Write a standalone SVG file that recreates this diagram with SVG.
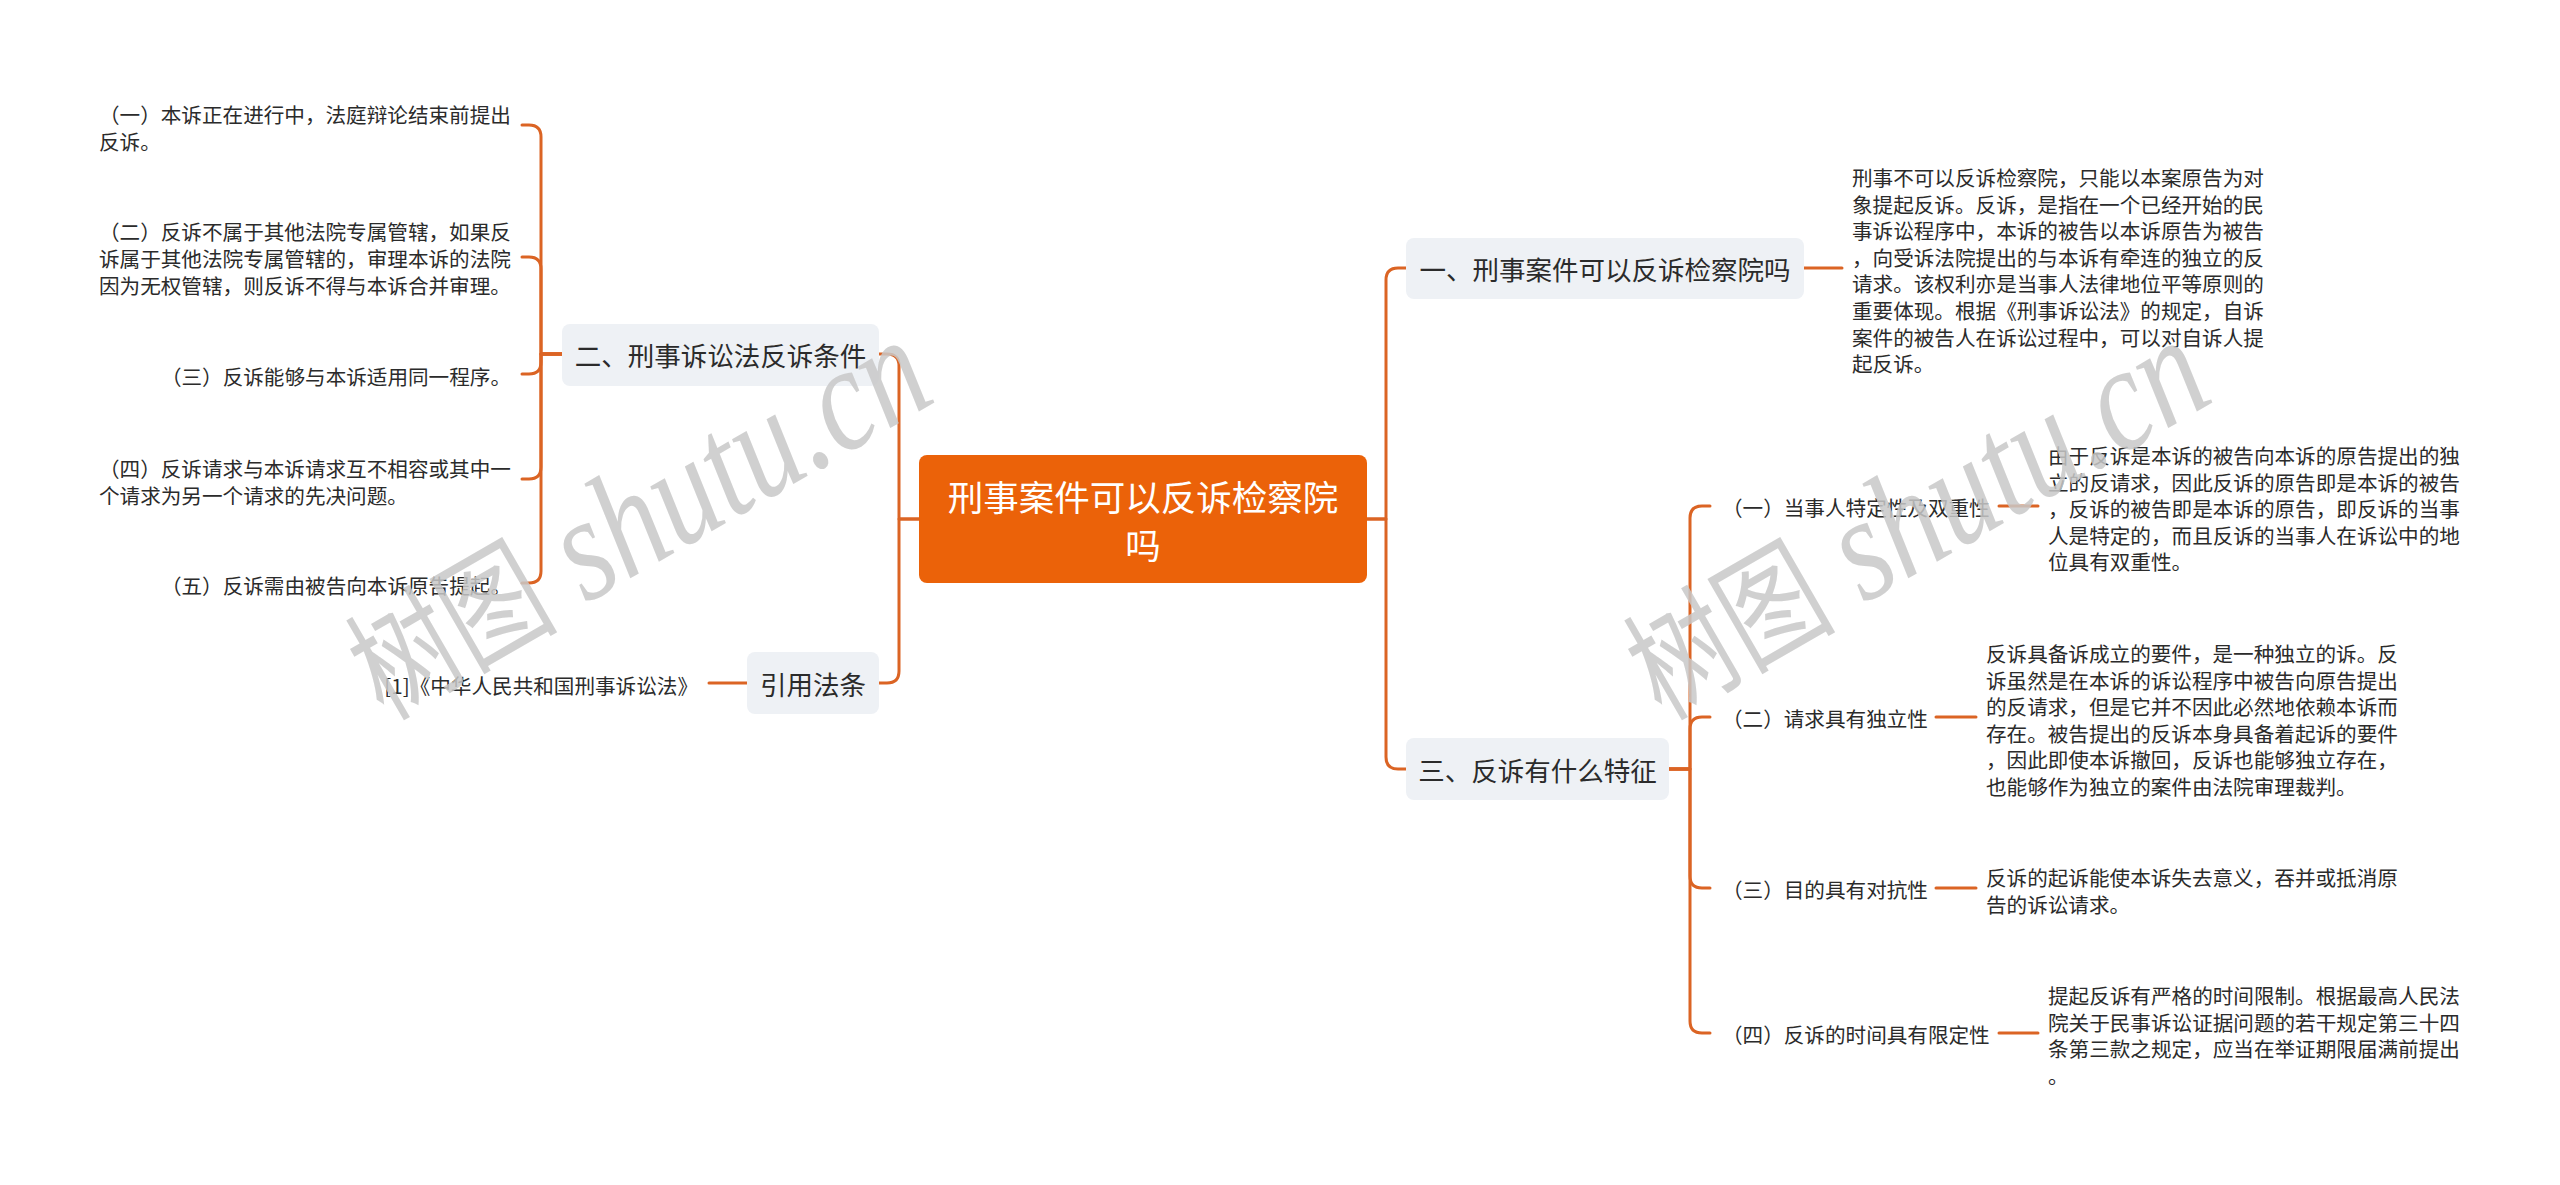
<svg xmlns="http://www.w3.org/2000/svg" width="2560" height="1185" viewBox="0 0 2560 1185">
<style>
.bg{fill:#ffffff}
.root rect{fill:#EB6209}
.root text{fill:#ffffff;font-family:"Noto Sans CJK SC","Noto Sans",sans-serif;font-size:35.5px;text-anchor:middle;dominant-baseline:central}
.branch rect{fill:#EEF1F5}
.branch text{fill:#2b2b2b;font-family:"Noto Sans CJK SC","Noto Sans",sans-serif;font-size:26.5px;text-anchor:middle;dominant-baseline:central}
.leaf text{fill:#2b2b2b;font-family:"Noto Sans CJK SC","Noto Sans",sans-serif;font-size:20.6px;dominant-baseline:central}
.end{text-anchor:end}
#connectors path{fill:none;stroke:#DB6424;stroke-width:3;stroke-linecap:round;stroke-linejoin:round}
.wm{fill:#c8c8c8;fill-opacity:0.85;text-anchor:middle}
.wmc{font-family:"Noto Sans CJK SC",sans-serif;font-size:112px}
.wml{font-family:"Liberation Serif",serif;font-style:italic;font-size:135px}
</style>
<rect class="bg" x="0" y="0" width="2560" height="1185"/>

<g id="connectors">
<path d="M919,519 H899 V366 Q899,354 887,354 H879"/>
<path d="M919,519 H899 V671 Q899,683 887,683 H879"/>
<path d="M1367,519 H1386 V280 Q1386,268 1398,268 H1406"/>
<path d="M1367,519 H1386 V757 Q1386,769 1398,769 H1406"/>
<path d="M562,354 H541 V137 Q541,125 529,125 H522"/>
<path d="M562,354 H541 V269 Q541,257 529,257 H522"/>
<path d="M562,354 H541 V362 Q541,374 529,374 H522"/>
<path d="M562,354 H541 V467 Q541,479 529,479 H522"/>
<path d="M562,354 H541 V571 Q541,583 529,583 H522"/>
<path d="M747,683 H709"/>
<path d="M1669,769 H1690 V518 Q1690,506 1702,506 H1710"/>
<path d="M1669,769 H1690 V729 Q1690,717 1702,717 H1710"/>
<path d="M1669,769 H1690 V876 Q1690,888 1702,888 H1710"/>
<path d="M1669,769 H1690 V1021 Q1690,1033 1702,1033 H1710"/>
<path d="M1804,268 H1842"/>
<path d="M1999,506 H2038"/>
<path d="M1936,717 H1976"/>
<path d="M1936,888 H1976"/>
<path d="M1999,1033 H2038"/>
</g>

<g id="root" class="root">
<rect x="919" y="455" width="448" height="128" rx="8"/>
<text x="1143" y="495">刑事案件可以反诉检察院</text>
<text x="1143" y="543">吗</text>
</g>

<g id="n2" class="branch">
<rect x="562" y="324" width="317" height="62" rx="8"/>
<text x="720.5" y="354">二、刑事诉讼法反诉条件</text>
</g>
<g id="n-cite" class="branch">
<rect x="747" y="652" width="132" height="62" rx="8"/>
<text x="813" y="683">引用法条</text>
</g>
<g id="n1" class="branch">
<rect x="1406" y="238" width="398" height="61" rx="8"/>
<text x="1605" y="268">一、刑事案件可以反诉检察院吗</text>
</g>
<g id="n3" class="branch">
<rect x="1406" y="738" width="263" height="62" rx="8"/>
<text x="1537.5" y="769">三、反诉有什么特征</text>
</g>

<g id="leaf2-1" class="leaf">
<text x="99" y="114">（一）本诉正在进行中，法庭辩论结束前提出</text>
<text x="99" y="141">反诉。</text>
</g>
<g id="leaf2-2" class="leaf">
<text x="99" y="231">（二）反诉不属于其他法院专属管辖，如果反</text>
<text x="99" y="258">诉属于其他法院专属管辖的，审理本诉的法院</text>
<text x="99" y="285">因为无权管辖，则反诉不得与本诉合并审理。</text>
</g>
<g id="leaf2-3" class="leaf">
<text class="end" x="511" y="376">（三）反诉能够与本诉适用同一程序。</text>
</g>
<g id="leaf2-4" class="leaf">
<text x="99" y="468">（四）反诉请求与本诉请求互不相容或其中一</text>
<text x="99" y="495">个请求为另一个请求的先决问题。</text>
</g>
<g id="leaf2-5" class="leaf">
<text class="end" x="511" y="585">（五）反诉需由被告向本诉原告提起。</text>
</g>
<g id="leaf-cite" class="leaf">
<text class="end" x="698" y="685">[1]《中华人民共和国刑事诉讼法》</text>
</g>

<g id="desc1" class="leaf">
<text x="1852" y="177">刑事不可以反诉检察院，只能以本案原告为对</text>
<text x="1852" y="203.6">象提起反诉。反诉，是指在一个已经开始的民</text>
<text x="1852" y="230.2">事诉讼程序中，本诉的被告以本诉原告为被告</text>
<text x="1852" y="256.8">，向受诉法院提出的与本诉有牵连的独立的反</text>
<text x="1852" y="283.4">请求。该权利亦是当事人法律地位平等原则的</text>
<text x="1852" y="310">重要体现。根据《刑事诉讼法》的规定，自诉</text>
<text x="1852" y="336.6">案件的被告人在诉讼过程中，可以对自诉人提</text>
<text x="1852" y="363.2">起反诉。</text>
</g>

<g id="n3-1" class="leaf">
<text x="1722" y="507">（一）当事人特定性及双重性</text>
</g>
<g id="n3-1d" class="leaf">
<text x="2048" y="455">由于反诉是本诉的被告向本诉的原告提出的独</text>
<text x="2048" y="481.6">立的反请求，因此反诉的原告即是本诉的被告</text>
<text x="2048" y="508.2">，反诉的被告即是本诉的原告，即反诉的当事</text>
<text x="2048" y="534.8">人是特定的，而且反诉的当事人在诉讼中的地</text>
<text x="2048" y="561.4">位具有双重性。</text>
</g>

<g id="n3-2" class="leaf">
<text x="1722" y="718">（二）请求具有独立性</text>
</g>
<g id="n3-2d" class="leaf">
<text x="1986" y="653">反诉具备诉成立的要件，是一种独立的诉。反</text>
<text x="1986" y="679.6">诉虽然是在本诉的诉讼程序中被告向原告提出</text>
<text x="1986" y="706.2">的反请求，但是它并不因此必然地依赖本诉而</text>
<text x="1986" y="732.8">存在。被告提出的反诉本身具备着起诉的要件</text>
<text x="1986" y="759.4">，因此即使本诉撤回，反诉也能够独立存在，</text>
<text x="1986" y="786">也能够作为独立的案件由法院审理裁判。</text>
</g>

<g id="n3-3" class="leaf">
<text x="1722" y="889">（三）目的具有对抗性</text>
</g>
<g id="n3-3d" class="leaf">
<text x="1986" y="877">反诉的起诉能使本诉失去意义，吞并或抵消原</text>
<text x="1986" y="903.6">告的诉讼请求。</text>
</g>

<g id="n3-4" class="leaf">
<text x="1722" y="1034">（四）反诉的时间具有限定性</text>
</g>
<g id="n3-4d" class="leaf">
<text x="2048" y="995">提起反诉有严格的时间限制。根据最高人民法</text>
<text x="2048" y="1021.6">院关于民事诉讼证据问题的若干规定第三十四</text>
<text x="2048" y="1048.2">条第三款之规定，应当在举证期限届满前提出</text>
<text x="2048" y="1074.8">。</text>
</g>

<g id="watermarks">
<text class="wm" transform="translate(662,560) rotate(-30) scale(0.9,1.12)"><tspan class="wmc">树图</tspan><tspan class="wml"> shutu.cn</tspan></text>
<text class="wm" transform="translate(1940,560) rotate(-30) scale(0.9,1.12)"><tspan class="wmc">树图</tspan><tspan class="wml"> shutu.cn</tspan></text>
</g>
</svg>
